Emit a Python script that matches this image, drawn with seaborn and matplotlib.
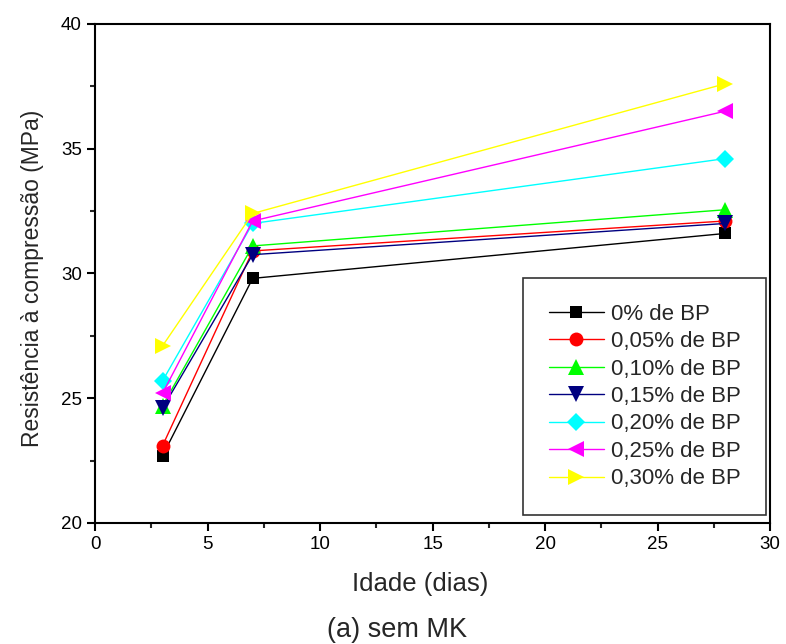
import seaborn as sns
import pandas as pd
import matplotlib.pyplot as plt
from matplotlib.ticker import MultipleLocator

days = [3, 7, 28]
series = ["0% de BP", "0,05% de BP", "0,10% de BP", "0,15% de BP",
          "0,20% de BP", "0,25% de BP", "0,30% de BP"]
bp_0 = [22.7, 29.8, 31.6]
bp_005 = [23.1, 30.9, 32.1]
bp_010 = [24.7, 31.1, 32.55]
bp_015 = [24.6, 30.75, 32.0]
bp_020 = [25.7, 32.0, 34.6]
bp_025 = [25.2, 32.1, 36.5]
bp_030 = [27.1, 32.4, 37.6]

colors = ["black", "red", "#00ff00", "#000080", "cyan", "magenta", "yellow"]
markers = ["s", "o", "^", "v", "D", "<", ">"]
msizes = [9, 10, 11, 11, 9, 11, 11]


def main():
    values = [bp_0, bp_005, bp_010, bp_015, bp_020, bp_025, bp_030]

    sns.set_style("ticks")
    plt.rcParams["font.family"] = ["Liberation Sans", "DejaVu Sans"]

    fig = plt.figure(figsize=(7.86, 6.44), dpi=100)
    ax = fig.add_axes([0.121, 0.188, 0.859, 0.775])

    for name, vals, c, m, ms in zip(series, values, colors, markers, msizes):
        df = pd.DataFrame({"Idade": days, "Resistencia": vals})
        sns.lineplot(data=df, x="Idade", y="Resistencia", color=c, marker=m,
                     markersize=ms, markeredgewidth=0, linewidth=1,
                     label=name, ax=ax)

    ax.set_xlim(0, 30)
    ax.set_ylim(20, 40)
    ax.xaxis.set_major_locator(MultipleLocator(5))
    ax.xaxis.set_minor_locator(MultipleLocator(2.5))
    ax.yaxis.set_major_locator(MultipleLocator(5))
    ax.yaxis.set_minor_locator(MultipleLocator(2.5))
    ax.tick_params(which="major", direction="out", length=6, width=1.5,
                   labelsize=13.5, colors="black")
    ax.tick_params(which="minor", direction="out", length=3.5, width=1.5)
    for sp in ax.spines.values():
        sp.set_linewidth(1.5)
        sp.set_color("black")

    ax.set_xlabel("Idade (dias)", fontsize=18.5)
    ax.xaxis.set_label_coords(0.481, -0.098)
    ax.set_ylabel("Resistência à compressão (MPa)", fontsize=16.5)
    ax.yaxis.set_label_coords(-0.076, 0.49)
    fig.text(0.505, 0.011, "(a) sem MK", fontsize=19.5, ha="center",
             va="baseline")

    leg = ax.legend(loc="lower right", bbox_to_anchor=(0.994, 0.016),
                    fontsize=16, frameon=True, fancybox=False, edgecolor="black",
                    handlelength=2.5, borderpad=1.15, labelspacing=0.29,
                    handletextpad=0.3, borderaxespad=0)
    leg.get_frame().set_linewidth(1.2)

    plt.savefig("out.png", dpi=100)


if __name__ == "__main__":
    main()
